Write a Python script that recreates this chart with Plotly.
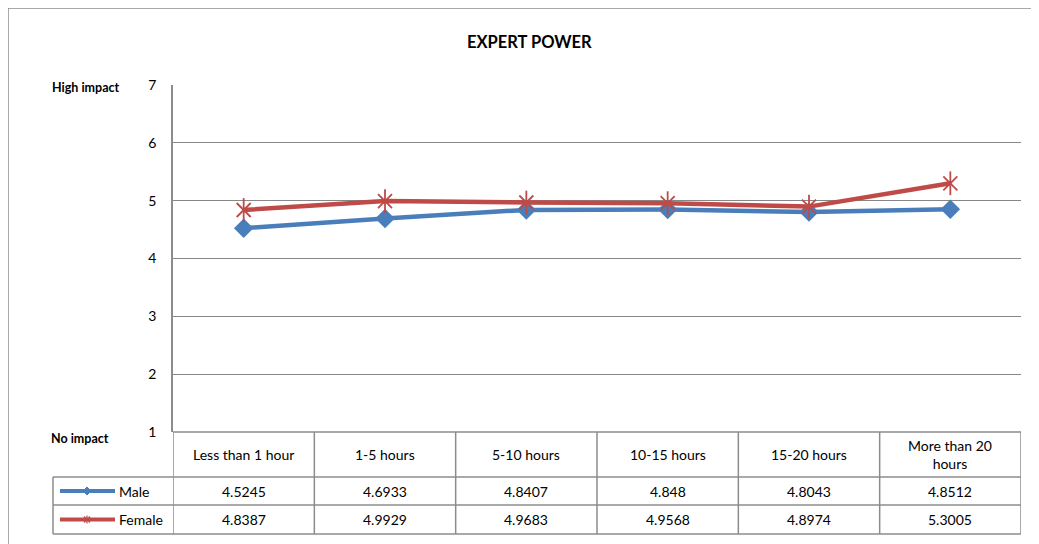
import plotly.graph_objects as go

categories = ["Less than 1 hour", "1-5 hours", "5-10 hours", "10-15 hours", "15-20 hours", "More than 20<br>hours"]
series_names = ["Male", "Female"]
male = [4.5245, 4.6933, 4.8407, 4.848, 4.8043, 4.8512]
female = [4.8387, 4.9929, 4.9683, 4.9568, 4.8974, 5.3005]
y_ticks = [1, 2, 3, 4, 5, 6, 7]

OFF = 8  # page body margin
W, H = 1039 - OFF, 544 - OFF
# plot area edges in screenshot pixels
PL, PR, PT, PB = 173, 1021, 85, 432
L, R, T, B = PL - OFF, W - (PR - OFF), PT - OFF, H - (PB - OFF)
PW, PH = PR - PL, PB - PT
BLUE = "#4A7EBB"
RED = "#BE4B48"
GRID = "#878787"
BORDER = "#8C8C8C"
FONT = "Lato"

def px_x(px):
    return (px - PL) / PW

def px_y(py):
    return (PB - py) / PH

n = len(categories)
xs = list(range(n))
XMIN, XMAX = -0.5, n - 0.5
YMIN, YMAX = 1, 7

fig = go.Figure()
fig.add_trace(go.Scatter(x=xs, y=male, mode="lines+markers", name="Male",
                         line=dict(color=BLUE, width=4.5),
                         marker=dict(symbol="diamond", size=15, color=BLUE)))
fig.add_trace(go.Scatter(x=xs, y=female, mode="lines", name="Female",
                         line=dict(color=RED, width=4.5)))
fig.add_trace(go.Scatter(x=xs, y=female, mode="markers",
                         marker=dict(symbol="x-thin-open", size=14, color=RED, line=dict(color=RED, width=1.8))))
fig.add_trace(go.Scatter(x=xs, y=female, mode="markers",
                         marker=dict(symbol="line-ns-open", size=17, color=RED, line=dict(color=RED, width=1.8))))

shapes = []
annotations = []

def ann(x, y, text, size=14, xref="paper", xanchor="center"):
    annotations.append(dict(x=x, y=y, xref=xref, yref="paper", text=text, showarrow=False,
                            xanchor=xanchor, yanchor="middle",
                            font=dict(family=FONT, size=size, color="#000")))

row_top = PB
header_bottom = 477
male_bottom = 505
female_bottom = 534
legend_left = 53

for i in range(n + 1):
    shapes.append(dict(type="line", xref="x", yref="paper", x0=i - 0.5, x1=i - 0.5,
                       y0=px_y(row_top), y1=px_y(female_bottom), line=dict(color=BORDER, width=1.5)))
shapes.append(dict(type="line", xref="paper", yref="paper", x0=px_x(legend_left), x1=px_x(legend_left),
                   y0=px_y(header_bottom), y1=px_y(female_bottom), line=dict(color=BORDER, width=1.5)))
shapes.append(dict(type="line", xref="x", yref="paper", x0=XMIN, x1=XMAX, y0=px_y(row_top), y1=px_y(row_top),
                   line=dict(color=BORDER, width=1.5)))
for yb in [header_bottom, male_bottom, female_bottom]:
    shapes.append(dict(type="line", xref="paper", yref="paper", x0=px_x(legend_left), x1=1,
                       y0=px_y(yb), y1=px_y(yb), line=dict(color=BORDER, width=1.5)))
# outer chart frame
shapes.append(dict(type="line", xref="paper", yref="paper", x0=px_x(8), x1=px_x(8), y0=px_y(8), y1=px_y(560),
                   line=dict(color=BORDER, width=1.5)))
shapes.append(dict(type="line", xref="paper", yref="paper", x0=px_x(8), x1=px_x(1060), y0=px_y(8), y1=px_y(8),
                   line=dict(color=BORDER, width=1.5)))

for i, c in enumerate(categories):
    ann(i, px_y((row_top + header_bottom) / 2), c, xref="x")
rows = [(male, (header_bottom + male_bottom) / 2), (female, (male_bottom + female_bottom) / 2)]
for vals, yc in rows:
    for i, v in enumerate(vals):
        ann(i, px_y(yc), str(v), xref="x")

# legend keys inside the table
def diamond_path(cx, cy, r):
    return (f"M {px_x(cx - r)} {px_y(cy)} L {px_x(cx)} {px_y(cy - r)} "
            f"L {px_x(cx + r)} {px_y(cy)} L {px_x(cx)} {px_y(cy + r)} Z")

key_specs = [(series_names[0], BLUE, (header_bottom + male_bottom) / 2),
             (series_names[1], RED, (male_bottom + female_bottom) / 2)]
for name, col, yc in key_specs:
    shapes.append(dict(type="line", xref="paper", yref="paper", x0=px_x(60), x1=px_x(115), y0=px_y(yc), y1=px_y(yc),
                       line=dict(color=col, width=4)))
    ann(px_x(117), px_y(yc), name, xanchor="left")
shapes.append(dict(type="path", xref="paper", yref="paper", path=diamond_path(87, key_specs[0][2], 4),
                   fillcolor=BLUE, line=dict(color=BLUE, width=1)))
cy = key_specs[1][2]
for dx0, dy0, dx1, dy1 in [(-3, -3, 3, 3), (-3, 3, 3, -3), (0, -4, 0, 4)]:
    shapes.append(dict(type="line", xref="paper", yref="paper", x0=px_x(87 + dx0), y0=px_y(cy + dy0),
                       x1=px_x(87 + dx1), y1=px_y(cy + dy1), line=dict(color=RED, width=1.2)))

ann(px_x(86), px_y(87), "<b>High impact</b>", size=12.5)
ann(px_x(80), px_y(438), "<b>No impact</b>", size=12.5)
ann(px_x(529), px_y(42), "<b>EXPERT POWER</b>", size=16.5)

fig.update_layout(
    width=W, height=H,
    margin=dict(l=L, r=R, t=T, b=B, autoexpand=False),
    paper_bgcolor="white", plot_bgcolor="white",
    showlegend=False,
    shapes=shapes, annotations=annotations,
    xaxis=dict(range=[XMIN, XMAX], showgrid=False, showticklabels=False, zeroline=False,
               showline=False, ticks="", fixedrange=True),
    yaxis=dict(range=[YMIN, YMAX], tickvals=y_ticks, showgrid=True, gridcolor=GRID, gridwidth=1,
               zeroline=False, showline=True, linecolor=BORDER, linewidth=1.5, ticks="",
               ticklabelstandoff=12, tickfont=dict(family=FONT, size=14, color="#000")),
)

fig.write_html("out.html")
